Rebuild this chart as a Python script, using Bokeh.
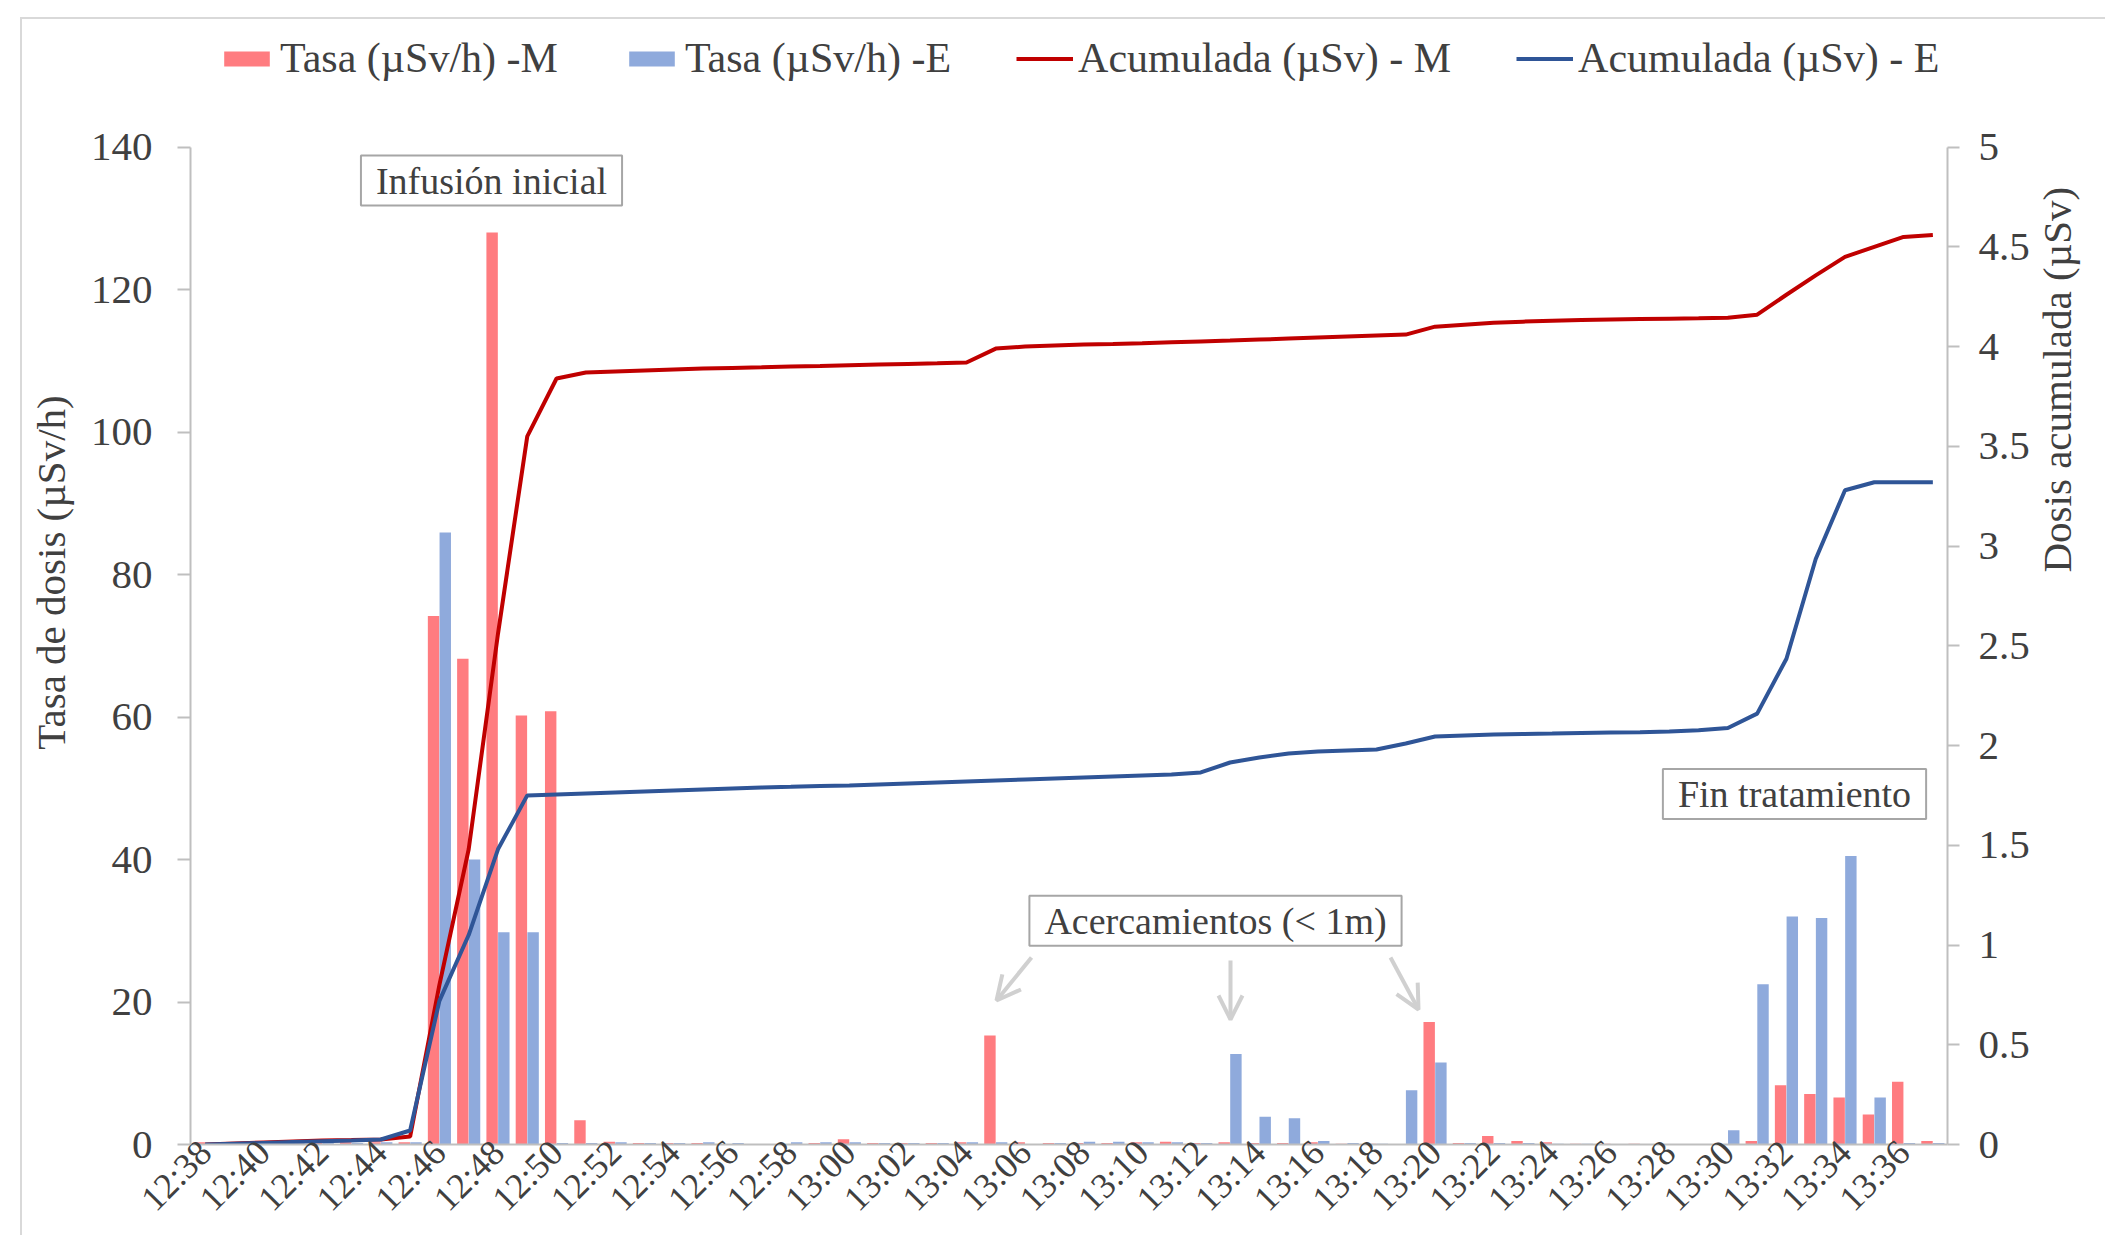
from bokeh.plotting import figure
from bokeh.models import (FactorRange, Range1d, LinearAxis, Legend, LegendItem, Label,
                          Arrow, OpenHead, FixedTicker, ColumnDataSource, CustomJSTickFormatter)
from bokeh.transform import dodge
from bokeh.embed import file_html
from bokeh.resources import INLINE
from math import pi

times = ["12:38", "12:39", "12:40", "12:41", "12:42", "12:43", "12:44", "12:45", "12:46", "12:47",
         "12:48", "12:49", "12:50", "12:51", "12:52", "12:53", "12:54", "12:55", "12:56", "12:57",
         "12:58", "12:59", "13:00", "13:01", "13:02", "13:03", "13:04", "13:05", "13:06", "13:07",
         "13:08", "13:09", "13:10", "13:11", "13:12", "13:13", "13:14", "13:15", "13:16", "13:17",
         "13:18", "13:19", "13:20", "13:21", "13:22", "13:23", "13:24", "13:25", "13:26", "13:27",
         "13:28", "13:29", "13:30", "13:31", "13:32", "13:33", "13:34", "13:35", "13:36", "13:37"]

tasa_M = [0.3, 0.2, 0.2, 0.3, 0.3, 0.3, 0.3, 0.3, 74.2, 68.2,
          128.0, 60.2, 60.8, 3.4, 0.4, 0.2, 0.2, 0.2, 0.0, 0.0,
          0.0, 0.2, 0.75, 0.2, 0.2, 0.2, 0.3, 15.3, 0.3, 0.2,
          0.2, 0.2, 0.3, 0.4, 0.2, 0.3, 0.2, 0.2, 0.3, 0.1,
          0.1, 0.0, 17.2, 0.2, 1.2, 0.5, 0.3, 0.1, 0.1, 0.1,
          0.0, 0.0, 0.0, 0.5, 8.3, 7.1, 6.6, 4.2, 8.8, 0.5]

tasa_E = [0.2, 0.2, 0.2, 0.2, 0.2, 0.2, 0.3, 0.3, 85.9, 40.0,
          29.8, 29.8, 0.2, 0.2, 0.3, 0.2, 0.2, 0.3, 0.2, 0.0,
          0.3, 0.3, 0.3, 0.2, 0.2, 0.2, 0.3, 0.3, 0.0, 0.2,
          0.4, 0.4, 0.3, 0.3, 0.2, 12.7, 3.9, 3.7, 0.5, 0.2,
          0.1, 7.6, 11.5, 0.2, 0.2, 0.2, 0.1, 0.1, 0.0, 0.0,
          0.0, 0.0, 2.0, 22.5, 32.0, 31.8, 40.5, 6.6, 0.2, 0.2]

acum_M = [0.0, 0.005, 0.01, 0.015, 0.02, 0.022, 0.025, 0.04, 0.80, 1.48,
          2.56, 3.55, 3.84, 3.87, 3.875, 3.88, 3.885, 3.89, 3.893, 3.896,
          3.90, 3.903, 3.907, 3.91, 3.913, 3.916, 3.92, 3.99, 4.00, 4.005,
          4.01, 4.013, 4.017, 4.022, 4.026, 4.03, 4.035, 4.04, 4.045, 4.05,
          4.055, 4.06, 4.10, 4.11, 4.12, 4.125, 4.13, 4.133, 4.136, 4.138,
          4.14, 4.142, 4.145, 4.16, 4.26, 4.357, 4.45, 4.50, 4.55, 4.56]

acum_E = [0.0, 0.004, 0.008, 0.012, 0.016, 0.02, 0.025, 0.07, 0.72, 1.05,
          1.48, 1.75, 1.755, 1.76, 1.765, 1.77, 1.775, 1.78, 1.785, 1.79,
          1.793, 1.797, 1.80, 1.805, 1.81, 1.815, 1.82, 1.825, 1.83, 1.835,
          1.84, 1.845, 1.85, 1.855, 1.865, 1.915, 1.94, 1.96, 1.97, 1.975,
          1.98, 2.01, 2.045, 2.05, 2.055, 2.058, 2.06, 2.063, 2.065, 2.067,
          2.07, 2.077, 2.088, 2.16, 2.435, 2.935, 3.28, 3.32, 3.32, 3.32]

left_ticks = [0, 20, 40, 60, 80, 100, 120, 140]
right_ticks = [0, 0.5, 1, 1.5, 2, 2.5, 3, 3.5, 4, 4.5, 5]

FONT = "Liberation Serif"
TXT = "#404040"
AXC = "#bfbfbf"

# frame spans the whole chart height so the legend (inside the frame) is not clipped;
# the visible axes are limited to 0-140 / 0-5 with axis bounds.
FRAME_H = 1147
LEFT_MAX = 140 * FRAME_H / 1000
RIGHT_MAX = 5 * FRAME_H / 1000

src = ColumnDataSource(dict(t=times, tm=tasa_M, te=tasa_E, am=acum_M, ae=acum_E))

p = figure(width=2105, height=1235,
           x_range=FactorRange(*times, range_padding=0),
           y_range=Range1d(0, LEFT_MAX), title=None,
           output_backend="svg", toolbar_location=None,
           min_border_left=190, min_border_right=156,
           min_border_top=0, min_border_bottom=88)
# thin grey chart-area border (top and left edges) drawn behind a transparent canvas
p.styles = {"background": ("linear-gradient(#d9d9d9, #d9d9d9) 20px 17px / 2px 100% no-repeat, "
                           "linear-gradient(#d9d9d9, #d9d9d9) 20px 17px / 100% 2px no-repeat")}
p.extra_y_ranges = {"right": Range1d(0, RIGHT_MAX)}
p.outline_line_color = None
p.grid.grid_line_color = None
p.background_fill_alpha = 0
p.border_fill_alpha = 0

bM = p.vbar(x=dodge("t", -0.2, range=p.x_range), top="tm", width=0.39, source=src,
            fill_color="#FF7C80", line_color=None)
bE = p.vbar(x=dodge("t", 0.2, range=p.x_range), top="te", width=0.39, source=src,
            fill_color="#8FAADC", line_color=None)
lM = p.line(x="t", y="am", source=src, y_range_name="right", line_color="#C00000", line_width=4)
lE = p.line(x="t", y="ae", source=src, y_range_name="right", line_color="#2F5597", line_width=4)

# x axis: label every second minute
xa = p.xaxis[0]
xa.formatter = CustomJSTickFormatter(code="return (index % 2 == 0) ? tick : '';")
xa.major_label_orientation = pi / 4
xa.major_label_text_font = FONT
xa.major_label_text_font_size = "36px"
xa.major_label_text_color = TXT
xa.major_label_standoff = 2
xa.major_tick_out = 0
xa.major_tick_in = 0
xa.major_tick_line_color = None
xa.axis_line_color = AXC
xa.axis_line_width = 2

ya = p.yaxis[0]
ya.ticker = FixedTicker(ticks=left_ticks)
ya.bounds = (0, 140)
ya.axis_label = "Tasa de dosis (µSv/h)"

ra = LinearAxis(y_range_name="right", axis_label="Dosis acumulada (µSv)",
                ticker=FixedTicker(ticks=right_ticks), bounds=(0, 5))
ra.major_label_overrides = {0: "0", 1: "1", 2: "2", 3: "3", 4: "4", 5: "5"}
try:
    ra.axis_label_orientation = pi / 2
except Exception:
    pass
p.add_layout(ra, "right")

for ax, tick_out, lstand, tstand in ((ya, 13, 25, 14), (ra, 12, 19, 24)):
    ax.axis_line_color = AXC
    ax.axis_line_width = 2
    ax.major_tick_line_color = AXC
    ax.major_tick_line_width = 2
    ax.major_tick_out = tick_out
    ax.major_tick_in = 0
    ax.minor_tick_line_color = None
    ax.minor_tick_out = 0
    ax.major_label_text_font = FONT
    ax.major_label_text_font_size = "41px"
    ax.major_label_text_color = TXT
    ax.major_label_standoff = lstand
    ax.axis_label_text_font = FONT
    ax.axis_label_text_font_size = "41px"
    ax.axis_label_text_font_style = "normal"
    ax.axis_label_text_color = TXT
    ax.axis_label_standoff = tstand

legend = Legend(items=[LegendItem(label="Tasa (µSv/h) -M", renderers=[bM]),
                       LegendItem(label="Tasa (µSv/h) -E", renderers=[bE]),
                       LegendItem(label="Acumulada (µSv) - M", renderers=[lM]),
                       LegendItem(label="Acumulada (µSv) - E", renderers=[lE])],
                location=(28, 1062), orientation="horizontal",
                spacing=65, glyph_width=57, glyph_height=19, label_standoff=5,
                label_text_font=FONT, label_text_font_size="42px", label_text_color=TXT,
                border_line_color=None, background_fill_alpha=0, padding=0, margin=0)
p.add_layout(legend, "center")

# annotation boxes: x in screen px from frame left, y in left-axis units
ann = [("Infusión inicial", 301, 135.3),
       ("Acercamientos (< 1m)", 1025, 31.4),
       ("Fin tratamiento", 1604, 49.2)]
for txt, x, y in ann:
    p.add_layout(Label(x=x, y=y, x_units="screen", y_units="data", text=txt,
                       text_font=FONT, text_font_size="38px", text_color=TXT,
                       text_align="center", text_baseline="middle",
                       background_fill_color="white", border_line_color="#a6a6a6",
                       border_line_width=2, padding=dict(x=15, y=4)))

arrows = [(841, 187, 806, 144), (1040, 184, 1040, 125), (1200, 187, 1228, 135)]
for x0, y0, x1, y1 in arrows:
    p.add_layout(Arrow(end=OpenHead(size=24, line_color="#d0d0d0", line_width=4),
                       x_start=x0, y_start=y0, x_end=x1, y_end=y1,
                       start_units="screen", end_units="screen",
                       line_color="#d0d0d0", line_width=4))

open("out.html", "w").write(file_html(p, INLINE))
